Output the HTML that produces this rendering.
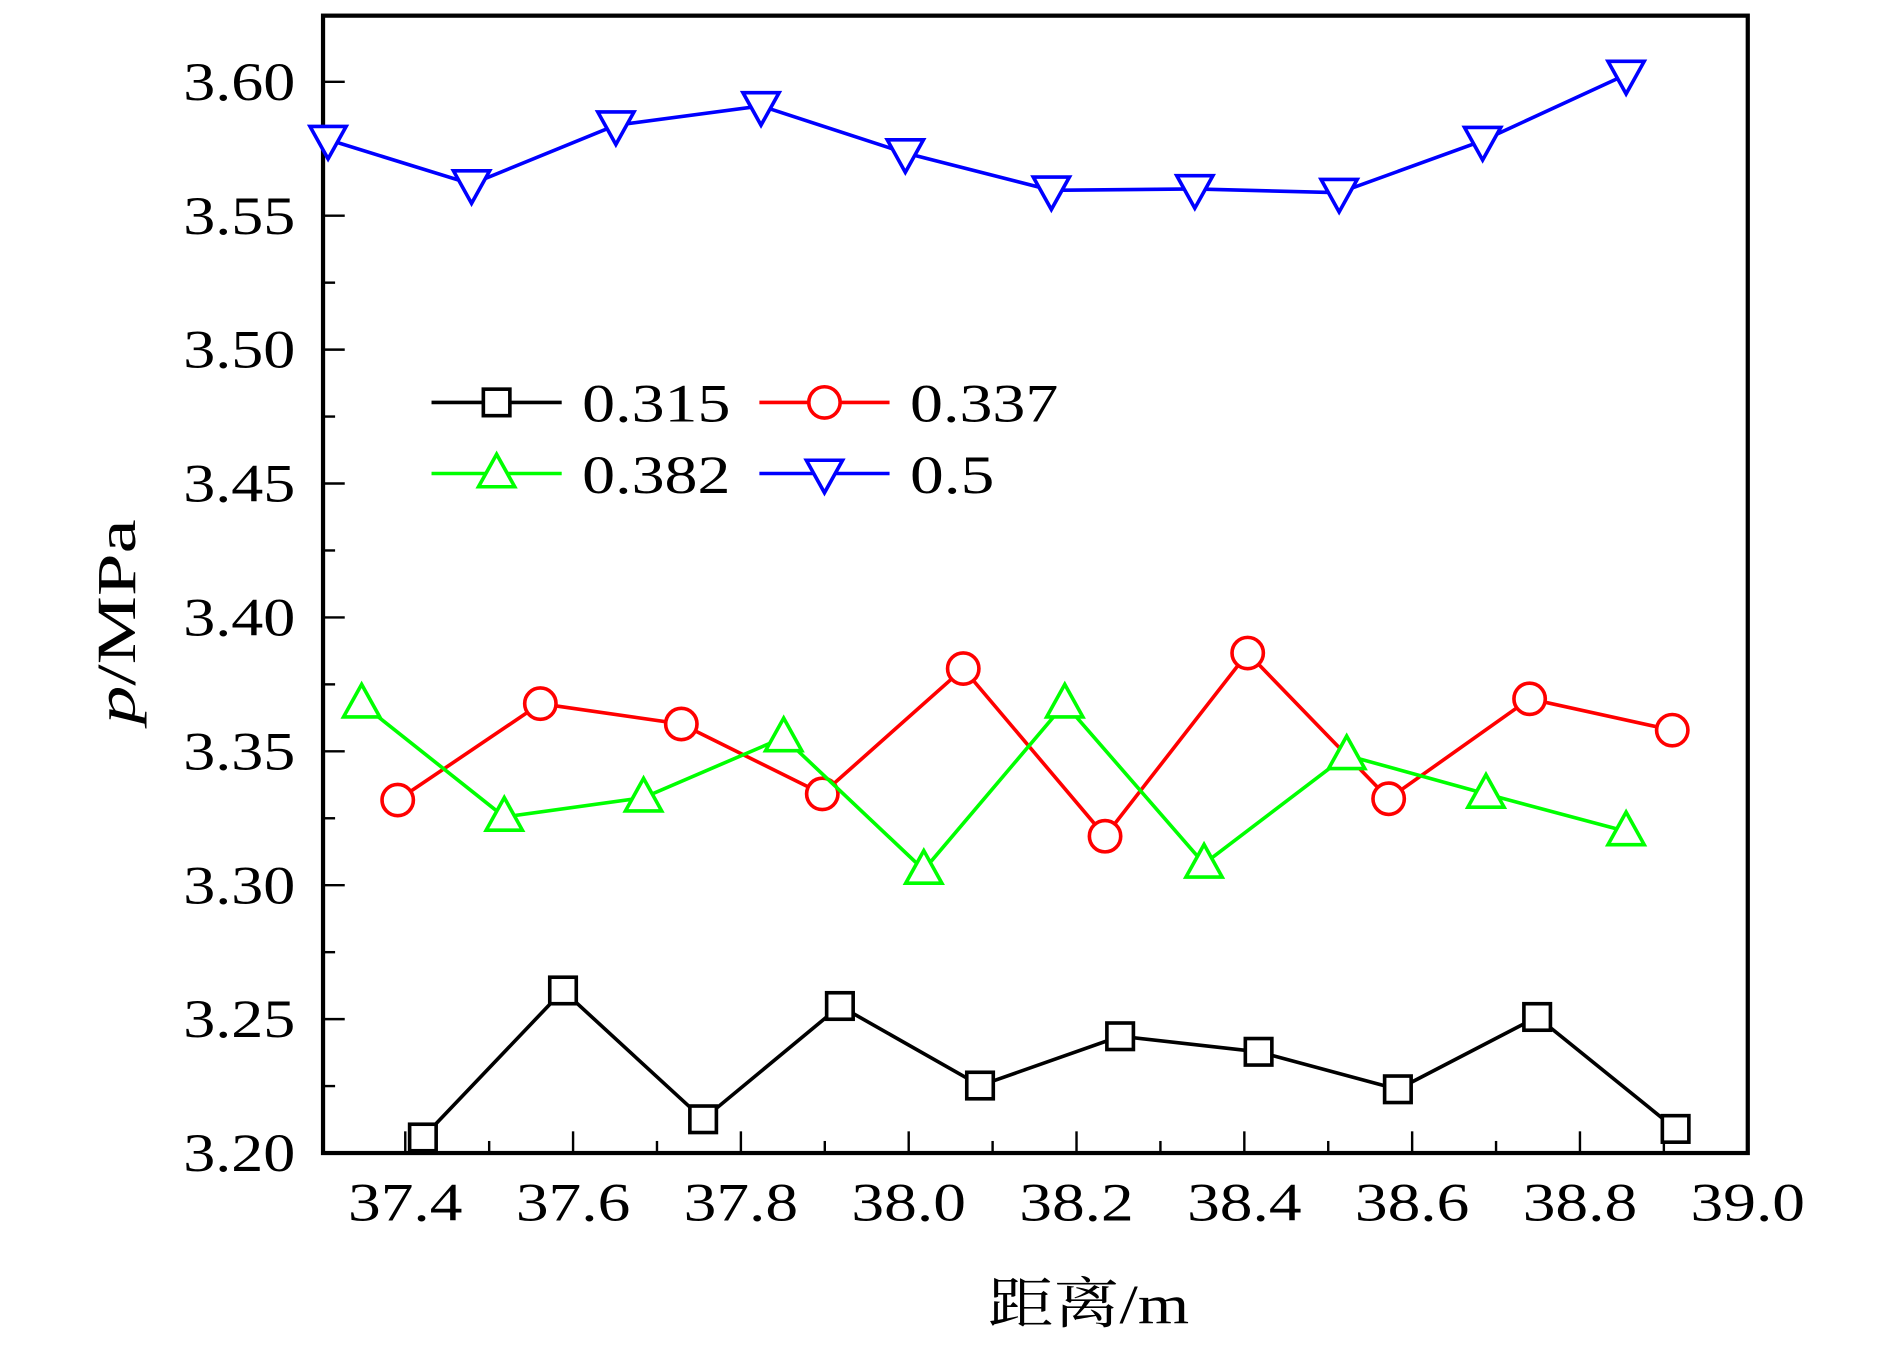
<!DOCTYPE html>
<html><head><meta charset="utf-8"><style>
html,body{margin:0;padding:0;background:#fff;}
svg{display:block;}
text{font-family:"Liberation Serif","Noto Serif CJK SC",serif;fill:#000;}
</style></head><body>
<svg id="chart" width="1890" height="1347" viewBox="0 0 1568 1118" preserveAspectRatio="none" xmlns="http://www.w3.org/2000/svg">
<g id="plot"></g>
</svg>
<script>
const xTicks=[37.4,37.6,37.8,38.0,38.2,38.4,38.6,38.8,39.0];
const yTicks=[3.20,3.25,3.30,3.35,3.40,3.45,3.50,3.55,3.60];
const seriesNames=["0.315","0.337","0.382","0.5"];
const x315=[37.421,37.588,37.755,37.918,38.085,38.252,38.417,38.583,38.749,38.914];
const y315=[3.2058,3.2607,3.2126,3.2549,3.2252,3.2436,3.2378,3.2238,3.2508,3.209];
const x337=[37.391,37.561,37.729,37.897,38.065,38.234,38.404,38.572,38.740,38.910];
const y337=[3.3318,3.3678,3.3602,3.3341,3.3809,3.3183,3.3867,3.3323,3.3696,3.3579];
const x382=[37.348,37.518,37.684,37.851,38.018,38.186,38.352,38.522,38.688,38.855];
const y382=[3.3678,3.3255,3.3327,3.3552,3.3057,3.3678,3.308,3.3485,3.3341,3.3201];
const x05=[37.308,37.479,37.651,37.824,37.996,38.170,38.341,38.513,38.684,38.855];
const y05=[3.5784,3.5618,3.5838,3.591,3.5734,3.5595,3.56,3.5586,3.578,3.6027];

const L=268,R=1450,T=13,B=957;
const X0=37.302,X1=39.0,Y0=3.2,Y1=3.6247;
function sx(v){return L+(v-X0)/(X1-X0)*(R-L);}
function sy(v){return B-(v-Y0)/(Y1-Y0)*(B-T);}
const NS="http://www.w3.org/2000/svg";
const g=document.getElementById('plot');
function el(tag,attrs,parent){const e=document.createElementNS(NS,tag);for(const k in attrs)e.setAttribute(k,attrs[k]);(parent||g).appendChild(e);return e;}

const frame=el('rect',{x:L,y:T,width:R-L,height:B-T,fill:'none',stroke:'#000','stroke-width':3.5});



xTicks.forEach((v,i)=>{
  const x=sx(v);
  const t=el('line',{x1:x,y1:B,x2:x,y2:B-18,stroke:'#000','stroke-width':2});
  
  
  const m=sx(v-0.1);
  if(m>L){const mt=el('line',{x1:m,y1:B,x2:m,y2:B-10,stroke:'#000','stroke-width':2});
  
  }
  const lb=el('text',{x:x,y:1013,'text-anchor':'middle','font-size':45,textLength:95,lengthAdjust:'spacingAndGlyphs'});
  lb.textContent=v.toFixed(1);
  
  
});
yTicks.forEach((v,i)=>{
  const y=sy(v);
  const t=el('line',{x1:L,y1:y,x2:L+18,y2:y,stroke:'#000','stroke-width':2});
  
  
  const m=sy(v+0.025);
  if(m>T){const mt=el('line',{x1:L,y1:m,x2:L+10,y2:m,stroke:'#000','stroke-width':2});
  
  }
  const lb=el('text',{x:152,y:y+15,'font-size':45,textLength:93,lengthAdjust:'spacingAndGlyphs'});
  lb.textContent=v.toFixed(2);
  
  
});

function marker(type,x,y,color,parent){
  let m;
  if(type==='sq') m=el('rect',{x:x-11,y:y-11,width:22,height:22,fill:'#fff',stroke:color,'stroke-width':3},parent);
  else if(type==='ci') m=el('circle',{cx:x,cy:y,r:13,fill:'#fff',stroke:color,'stroke-width':3},parent);
  else if(type==='up') m=el('polygon',{points:`${x},${y-16} ${x-15},${y+11} ${x+15},${y+11}`,fill:'#fff',stroke:color,'stroke-width':3},parent);
  else m=el('polygon',{points:`${x},${y+16} ${x-15},${y-11} ${x+15},${y-11}`,fill:'#fff',stroke:color,'stroke-width':3},parent);
  return m;
}
const series=[[x315,y315,'#000','sq'],[x337,y337,'#f00','ci'],[x382,y382,'#0f0','up'],[x05,y05,'#00f','dn']];
series.forEach((s,i)=>{
  const grp=el('g',{});
  
  
  const pts=s[0].map((xv,j)=>sx(xv)+','+sy(s[1][j])).join(' ');
  const pl=el('polyline',{points:pts,fill:'none',stroke:s[2],'stroke-width':3},grp);
  
  
  s[0].forEach((xv,j)=>{
    const mk=marker(s[3],sx(xv),sy(s[1][j]),s[2],grp);
    
    
  });
});

const legPos=[[358,334],[630,334],[358,393],[630,393]];
const legW=[123,123,123,70];
series.forEach((s,i)=>{
  const [lx,ly]=legPos[i];
  const lg=el('g',{});
  
  
  el('line',{x1:lx,y1:ly,x2:lx+108,y2:ly,stroke:s[2],'stroke-width':3},lg);
  marker(s[3],lx+54,ly,s[2],lg);
  const t=el('text',{x:lx+125,y:ly+16,'font-size':45,textLength:legW[i],lengthAdjust:'spacingAndGlyphs'},lg);
  t.textContent=seriesNames[i];
});

const yt=el('text',{x:0,y:0,'font-size':46,'text-anchor':'middle',textLength:170,lengthAdjust:'spacingAndGlyphs',transform:'translate(112,516) rotate(-90)'});
yt.innerHTML='<tspan font-style="italic">p</tspan>/MPa';


const xt=el('text',{x:903,y:1098,'font-size':46,'text-anchor':'middle',textLength:167,lengthAdjust:'spacingAndGlyphs'});
xt.textContent='距离/m';


</script>
</body></html>
